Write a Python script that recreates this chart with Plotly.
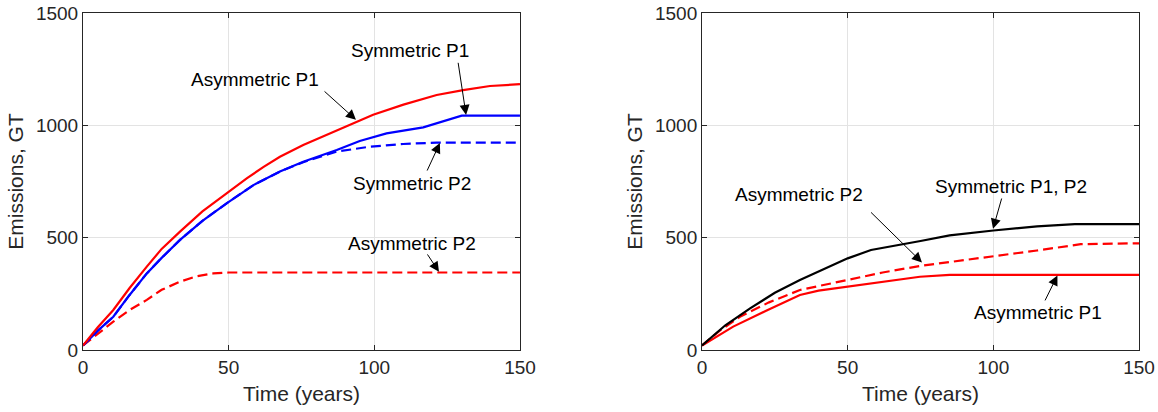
import plotly.graph_objects as go
from plotly.subplots import make_subplots

# ---- Left panel data ----
t_asym_p1_L = [0, 5, 10.4, 16, 21.9, 27, 33.3, 41, 49.3, 56.2, 62, 67.6, 75.6, 85, 92.8, 99.6, 110, 121.4, 130.5, 139.7, 150]
v_asym_p1_L = [20, 100, 178, 276, 371, 450, 527, 617, 697, 764, 815, 860, 912, 965, 1010, 1047, 1092, 1135, 1157, 1175, 1183]

t_sym_p1_L = [0, 5, 10.4, 16, 21.9, 27, 33.3, 41, 49.3, 58.5, 67.6, 75.6, 87.1, 95, 104.2, 110, 116.8, 130, 150]
v_sym_p1_L = [20, 85, 148, 245, 341, 410, 490, 575, 653, 734, 794, 838, 890, 930, 964, 978, 991, 1043, 1043]

t_sym_p2_L = [0, 5, 10.4, 16, 21.9, 27, 33.3, 41, 49.3, 58.5, 67.6, 75.6, 87.1, 98.5, 109.9, 121.4, 150]
v_sym_p2_L = [20, 85, 148, 245, 341, 410, 490, 575, 653, 734, 794, 836, 883, 905, 917, 923, 923]

t_asym_p2_L = [0, 5, 10.4, 16, 21.9, 27, 33.3, 39, 44.7, 50, 150]
v_asym_p2_L = [20, 72, 126, 178, 223, 268, 304, 328, 341, 345, 345]

# ---- Right panel data ----
t_sym_R = [0, 8, 16.5, 25, 33.6, 42, 50, 58, 68, 75, 85, 100, 115, 128, 150]
v_sym_R = [20, 110, 185, 255, 312, 362, 408, 445, 467, 485, 510, 532, 550, 560, 560]

t_asym_p2_R = [0, 6, 13, 23, 33.6, 49.7, 62, 74.8, 100, 115, 130, 150]
v_asym_p2_R = [20, 85, 148, 212, 267, 312, 345, 374, 416, 443, 471, 475]

t_asym_p1_R = [0, 10.7, 22, 33.6, 40, 49.7, 62, 74.8, 85, 150]
v_asym_p1_R = [20, 104, 175, 245, 264, 282, 305, 326, 334, 334]

x_ticks = [0, 50, 100, 150]
y_ticks = [0, 500, 1000, 1500]

RED = "#ff0000"
BLUE = "#0000ff"
BLACK = "#000000"
DASH = "10px,5px"

fig = make_subplots(rows=1, cols=2, horizontal_spacing=0.1724)

def add_line(x, y, color, dash, col):
    fig.add_trace(go.Scatter(x=x, y=y, mode="lines",
                             line=dict(color=color, width=2.2, dash=dash),
                             showlegend=False, hoverinfo="skip"), row=1, col=col)

add_line(t_asym_p2_L, v_asym_p2_L, RED, DASH, 1)
add_line(t_sym_p2_L, v_sym_p2_L, BLUE, DASH, 1)
add_line(t_sym_p1_L, v_sym_p1_L, BLUE, "solid", 1)
add_line(t_asym_p1_L, v_asym_p1_L, RED, "solid", 1)

add_line(t_asym_p1_R, v_asym_p1_R, RED, "solid", 2)
add_line(t_asym_p2_R, v_asym_p2_R, RED, DASH, 2)
add_line(t_sym_R, v_sym_R, BLACK, "solid", 2)

FONT = "Liberation Sans, Arial, sans-serif"
axis_common = dict(showline=True, linecolor="#262626", linewidth=1, mirror="allticks",
                   ticks="inside", ticklen=5, tickcolor="#262626", automargin=False,
                   showgrid=True, gridcolor="#e3e3e3", gridwidth=1, zeroline=False,
                   tickfont=dict(size=19, color="#262626", family=FONT))

for c in (1, 2):
    fig.update_xaxes(range=[0, 150], tickvals=x_ticks, **axis_common,
                     title=dict(text="Time (years)", font=dict(size=21, color="#262626", family=FONT), standoff=9),
                     row=1, col=c)
    fig.update_yaxes(range=[0, 1500], tickvals=y_ticks, **axis_common,
                     title=dict(text="Emissions, GT", font=dict(size=21, color="#262626", family=FONT), standoff=6),
                     row=1, col=c)

def label(xref, yref, x, y, text):
    fig.add_annotation(xref=xref, yref=yref, x=x, y=y, text=text, showarrow=False,
                       font=dict(size=19, color="#000000", family=FONT))

def arrow(xref, yref, x0, y0, x1, y1):
    fig.add_annotation(xref=xref, yref=yref, axref=xref, ayref=yref,
                       x=x1, y=y1, ax=x0, ay=y0, text="", showarrow=True,
                       arrowhead=2, arrowsize=2, arrowwidth=1, arrowcolor="#000000",
                       standoff=0, startstandoff=0)

# Left annotations
label("x", "y", 59, 1202, "Asymmetric P1")
arrow("x", "y", 82.4, 1157, 93.7, 1025)
label("x", "y", 112.2, 1335, "Symmetric P1")
arrow("x", "y", 128.7, 1285, 131.5, 1046)
label("x", "y", 112.9, 739, "Symmetric P2")
arrow("x", "y", 117.9, 792, 122.5, 921)
label("x", "y", 112.9, 472, "Asymmetric P2")
arrow("x", "y", 117.9, 432, 122.2, 348)

# Right annotations
label("x2", "y2", 33.3, 694, "Asymmetric P2")
arrow("x2", "y2", 57.5, 619, 75.5, 390)
label("x2", "y2", 106.2, 726, "Symmetric P1, P2")
arrow("x2", "y2", 103, 681, 99.9, 540)
label("x2", "y2", 115.3, 165, "Asymmetric P1")
arrow("x2", "y2", 117.5, 214, 122, 332)

fig.update_layout(width=1158, height=412, margin=dict(l=83, r=19, t=13, b=62),
                  plot_bgcolor="white", paper_bgcolor="white",
                  font=dict(family=FONT))

# remove the browser's default body margin so the figure sits at the window's top-left
fig.write_html("out.html", config={"displayModeBar": False},
               post_script="document.body.style.margin='0';document.body.style.overflow='hidden';")
